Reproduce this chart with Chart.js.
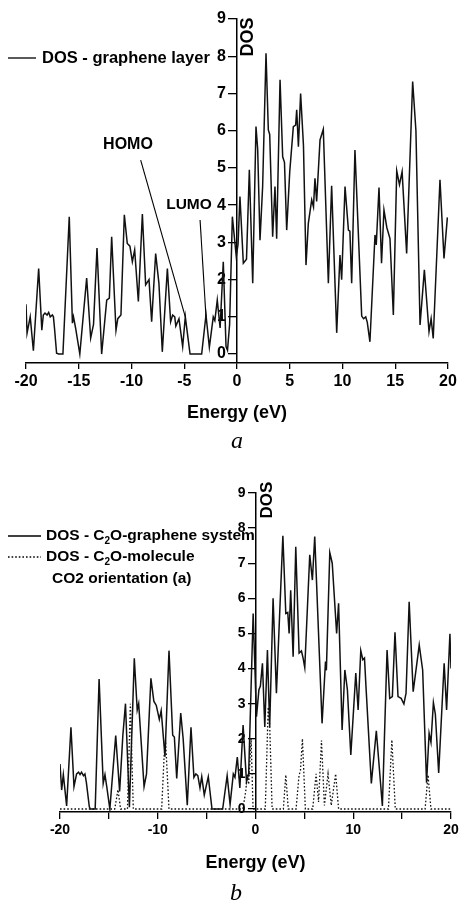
<!DOCTYPE html>
<html><head><meta charset="utf-8">
<script src="https://cdn.jsdelivr.net/npm/chart.js@4.4.1/dist/chart.umd.min.js"></script>
<style>
html,body{margin:0;padding:0;background:#fff;width:462px;height:902px;overflow:hidden}
.wrap{position:absolute;left:0;width:462px}
canvas{display:block}
</style></head>
<body>
<div class="wrap" style="top:0;height:460px"><canvas id="cA" width="462" height="460"></canvas></div>
<div class="wrap" style="top:460px;height:442px"><canvas id="cB" width="462" height="442"></canvas></div>
<script>
// ---------- DATA ----------
const energyA = [-20,-19.9,-19.6,-19.3,-18.8,-18.5,-18.36,-18.2,-18.0,-17.85,-17.7,-17.5,-17.4,-17.3,-17.1,-16.9,-16.5,-15.9,-15.6,-15.5,-15.3,-14.9,-14.25,-13.87,-13.6,-13.27,-12.83,-12.35,-12.1,-11.88,-11.47,-11.3,-11.0,-10.68,-10.4,-10.15,-9.92,-9.7,-9.35,-8.97,-8.66,-8.34,-8.09,-7.71,-7.4,-7.08,-6.6,-6.29,-6.1,-5.9,-5.8,-5.5,-5.15,-4.9,-4.45,-3.35,-2.94,-2.62,-2.25,-2.1,-1.87,-1.6,-1.3,-1.04,-0.9,-0.7,-0.44,-0.07,0.1,0.28,0.6,0.9,1.17,1.49,1.8,1.96,2.18,2.43,2.75,2.97,3.1,3.38,3.6,3.76,4.08,4.33,4.5,4.71,5.0,5.34,5.56,5.66,5.82,6.03,6.3,6.54,6.76,7.08,7.25,7.39,7.55,7.87,8.18,8.66,8.97,9.45,9.76,9.92,10.24,10.56,10.7,10.87,11.18,11.82,12.0,12.2,12.35,12.6,13.08,13.2,13.46,13.7,13.93,14.2,14.5,14.82,15.14,15.4,15.65,16.08,16.65,16.96,17.35,17.76,18.2,18.4,18.6,19.24,19.62,19.94];
const dosGraphene = [1.34,0.56,1.0,0.09,2.3,0.64,1.05,1.1,1.05,1.12,1.0,1.05,1.0,0.7,0.02,0,0,3.69,0.83,1.0,0.7,0,2.04,0.43,0.8,2.85,0,1.45,1.5,3.15,0.64,0.95,1.05,3.74,2.97,2.9,2.48,2.8,1.41,3.76,1.86,2.0,0.87,2.7,1.9,0.06,2.3,0.87,1.05,1.0,0.75,0.95,0.2,1.0,0,0,1.05,0.18,1.0,0.9,1.45,0.7,2.48,0.2,0.1,0.8,3.69,2.62,2.95,4.23,2.44,2.55,4.95,1.9,6.11,5.5,3.06,4.5,8.08,6.02,5.9,3.15,4.5,3.1,7.37,5.3,5.15,3.33,4.9,6.11,6.15,6.56,5.57,7.0,5.6,2.39,3.51,4.14,3.95,4.72,4.1,5.75,6.04,1.9,4.52,0.57,2.66,2.0,4.5,3.33,3.3,1.9,5.48,1.02,0.95,1.0,0.85,0.33,3.2,2.93,4.47,2.44,3.87,3.4,3.1,1.05,4.92,4.55,4.9,2.7,7.32,6.0,0.78,2.26,0.6,0.95,0.42,4.68,2.57,3.67];

const energyB = [-20,-19.83,-19.66,-19.32,-18.88,-18.57,-18.3,-18.1,-17.95,-17.8,-17.6,-17.45,-17.3,-17.0,-16.9,-16.4,-16.0,-15.58,-15.4,-15.2,-14.9,-14.3,-13.9,-13.57,-13.3,-12.9,-12.4,-12.1,-11.95,-11.4,-11.15,-10.7,-10.4,-10.15,-9.84,-9.65,-9.26,-8.85,-8.47,-8.3,-8.06,-7.65,-7.4,-6.98,-6.6,-6.3,-6.1,-5.9,-5.68,-5.5,-5.24,-4.83,-4.45,-3.36,-2.9,-2.6,-2.27,-2.1,-1.86,-1.6,-1.27,-0.92,-0.7,-0.24,0.1,0.35,0.5,0.71,0.95,1.22,1.45,1.8,2.14,2.8,3.1,3.3,3.44,3.6,3.85,4.12,4.46,4.7,4.87,5.04,5.55,5.82,6.06,6.81,7.16,7.25,7.6,7.85,8.3,8.5,8.86,9.14,9.4,9.75,10.26,10.5,10.77,10.98,11.15,11.3,11.85,12.36,12.98,13.46,13.73,14.0,14.27,14.58,14.9,15.18,15.4,15.72,16.13,16.75,17.1,17.5,17.76,17.95,18.2,18.4,18.74,19.3,19.55,19.89,20.0];
const dosSystem = [1.28,0.54,0.98,0.09,2.33,0.64,1.0,1.05,0.98,1.05,0.95,1.0,0.75,0.06,0,0,3.7,0.73,0.98,0.6,0,2.09,0.5,2.1,3.0,0.05,4.29,2.82,3.0,0.64,1.0,3.72,3.07,2.95,2.55,2.8,1.49,4.51,2.1,2.05,0.87,2.73,2.0,0.11,2.33,0.9,1.0,0.95,0.6,0.92,0.4,0.92,0,0,0.95,0.13,1.0,0.9,1.48,0.6,2.39,0.78,1.0,5.57,2.63,3.4,3.5,4.15,2.34,4.53,2.34,6.0,3.3,7.78,5.57,5.6,5.0,6.23,4.34,7.47,4.44,4.5,4.3,4.03,7.24,6.52,7.76,2.44,4.2,3.95,7.3,7.0,5.0,5.86,2.25,3.96,3.4,1.54,3.87,2.82,4.51,4.25,4.3,3.5,0.73,2.23,0.09,4.53,3.15,3.2,5.03,3.2,3.15,2.99,3.3,5.9,3.34,4.67,3.96,0.75,2.16,1.9,3.03,2.7,1.03,4.15,2.82,4.99,4.0];

const energyMol = [-20,-14.4,-14.07,-13.8,-13.1,-12.8,-12.5,-9.6,-9.35,-9.2,-8.85,-1.3,-1.0,-0.85,-0.7,-0.45,-0.25,1.0,1.3,1.45,1.7,2.85,3.1,3.35,4.15,4.45,4.6,4.8,5.1,5.85,6.2,6.45,6.75,7.05,7.42,7.75,8.2,8.5,13.6,13.95,14.3,17.35,17.65,17.95,20];
const dosMolecule = [0,0,0.55,0,0,3.0,0,0,1.5,1.95,0,0,0.5,1.0,0.7,2.0,0,0,2.9,2.4,0,0,0.97,0,0,0.95,1.1,2.0,0,0,1.0,0.2,1.95,0.1,1.0,0.1,1.0,0,0,1.97,0,0,0.97,0,0];

const xTicksA = [-20,-15,-10,-5,0,5,10,15,20];
const xTicksB = [-20,-15,-10,-5,0,5,10,15,20];
const xLabelsB = [-20,-10,0,10,20];
const yTicks = [0,1,2,3,4,5,6,7,8,9];

// annotation anchors (data coordinates)
const homoLine = [[-9.13,5.21],[-4.9,1.0]];
const lumoLine = [[-3.5,3.6],[-2.94,1.0]];

// ---------- helpers ----------
const F = 'Liberation Sans, Arial, sans-serif';
function bold(px){ return 'bold ' + px + 'px "Liberation Sans", Arial, sans-serif'; }
function pts(xs, ys){ return xs.map((x,i)=>({x:x, y:ys[i]})); }

function axisCommon(tickLen, fontSize){
  return {
    grid:{display:true, drawOnChartArea:false, drawTicks:true, tickLength:tickLen, color:'#000', lineWidth:1.3},
    border:{display:true, color:'#000', width:1.5},
    ticks:{color:'#000', font:{family:F, weight:'bold', size:fontSize}, padding:3, maxRotation:0, autoSkip:false}
  };
}

// place y tick labels to the left of the centred axis
const yLabelFix = {
  id:'yLabelFix',
  beforeDraw(chart){
    const ys = chart.scales.y, xs = chart.scales.x;
    const ax = xs.getPixelForValue(0);
    const off = ys.options.grid.tickLength + 3;
    ys.getLabelItems().forEach(it=>{
      it.options.translation[0] = ax - off;
      it.options.textAlign = 'right';
    });
  }
};

function makeChart(id, cfg){
  const xa = axisCommon(cfg.xTickLen, cfg.tickFont);
  const ya = axisCommon(cfg.yTickLen, cfg.tickFont);
  xa.ticks.callback = cfg.xLabel;
  return new Chart(document.getElementById(id), {
    type:'line',
    data:{datasets: cfg.datasets},
    options:{
      responsive:false, animation:false, events:[], devicePixelRatio:1,
      layout:{padding:cfg.padding},
      plugins:{legend:{display:false}, tooltip:{enabled:false}},
      scales:{
        x:Object.assign(xa, {
          type:'linear', min:-20, max:20, position:'bottom',
          afterBuildTicks:(s)=>{ s.ticks = cfg.xTicks.map(v=>({value:v})); },
          afterFit:(s)=>{ s.height = cfg.xHeight; },
          title:{display:true, text:'Energy (eV)', color:'#000', font:{family:F, weight:'bold', size:18}, padding:{top:0, bottom:cfg.titlePad}}
        }),
        y:Object.assign(ya, {
          type:'linear', min:cfg.yMin, max:9, position:{x:0},
          afterBuildTicks:(s)=>{ s.ticks = yTicks.map(v=>({value:v})); }
        })
      }
    },
    plugins:[yLabelFix, {id:'annot', afterDraw:cfg.draw}]
  });
}
Chart.defaults.font.family = F;

// ---------- Chart A ----------
const chartA = makeChart('cA', {
  padding:{left:26, right:14, top:19, bottom:30},
  xTickLen:6, yTickLen:8, tickFont:16, xHeight:67, titlePad:5.7, yMin:-0.24,
  xTicks:xTicksA, xLabel:(v)=>String(v),
  datasets:[{data:pts(energyA, dosGraphene), borderColor:'#111', borderWidth:1.5, pointRadius:0, tension:0, fill:false}],
  draw:(chart)=>{
    const ctx = chart.ctx, xs = chart.scales.x, ys = chart.scales.y;
    ctx.save();
    ctx.fillStyle = '#000'; ctx.strokeStyle = '#000';
    // legend
    ctx.lineWidth = 1.3;
    ctx.beginPath(); ctx.moveTo(8,58); ctx.lineTo(36,58); ctx.stroke();
    ctx.font = bold(16.5); ctx.textBaseline = 'middle'; ctx.textAlign = 'left';
    ctx.fillText('DOS - graphene layer', 42, 58);
    // HOMO / LUMO
    ctx.lineWidth = 1.1;
    [homoLine, lumoLine].forEach(l=>{
      ctx.beginPath();
      ctx.moveTo(xs.getPixelForValue(l[0][0]), ys.getPixelForValue(l[0][1]));
      ctx.lineTo(xs.getPixelForValue(l[1][0]), ys.getPixelForValue(l[1][1]));
      ctx.stroke();
    });
    ctx.textAlign = 'center';
    ctx.font = bold(16); ctx.fillText('HOMO', 128, 145);
    ctx.font = bold(15.5); ctx.fillText('LUMO', 189, 205);
    // y title
    ctx.save(); ctx.translate(248, 37); ctx.rotate(-Math.PI/2);
    ctx.font = bold(18); ctx.fillText('DOS', 0, 0); ctx.restore();
    // caption
    ctx.font = 'italic 24px "Liberation Serif", serif'; ctx.textBaseline = 'alphabetic';
    ctx.fillText('a', 237, 448);
    ctx.restore();
  }
});

// ---------- Chart B ----------
const chartB = makeChart('cB', {
  padding:{left:60, right:11, top:33, bottom:22},
  xTickLen:7, yTickLen:7, tickFont:14, xHeight:68, titlePad:6.2, yMin:-0.085,
  xTicks:xTicksB, xLabel:(v)=> xLabelsB.includes(v) ? String(v) : '',
  datasets:[
    {data:pts(energyB, dosSystem), borderColor:'#111', borderWidth:1.5, pointRadius:0, tension:0, fill:false},
    {data:pts(energyMol, dosMolecule), borderColor:'#111', borderWidth:1.3, borderDash:[1.6,2], pointRadius:0, tension:0, fill:false}
  ],
  draw:(chart)=>{
    const ctx = chart.ctx;
    ctx.save();
    ctx.fillStyle = '#000'; ctx.strokeStyle = '#000'; ctx.lineWidth = 1.3;
    const r1 = 536-460, r2 = 557-460, r3 = 579-460;
    ctx.beginPath(); ctx.moveTo(8,r1); ctx.lineTo(41,r1); ctx.stroke();
    ctx.setLineDash([1.6,2]); ctx.beginPath(); ctx.moveTo(8,r2); ctx.lineTo(41,r2); ctx.stroke(); ctx.setLineDash([]);
    ctx.textBaseline = 'middle'; ctx.textAlign = 'left';
    function sub(parts, x, y){
      parts.forEach(p=>{
        if (p.s){ ctx.font = bold(10); ctx.fillText(p.t, x, y+5); x += ctx.measureText(p.t).width; }
        else { ctx.font = bold(15.5); ctx.fillText(p.t, x, y); x += ctx.measureText(p.t).width; }
      });
    }
    sub([{t:'DOS - C'},{t:'2',s:1},{t:'O-graphene system'}], 46, r1);
    sub([{t:'DOS - C'},{t:'2',s:1},{t:'O-molecule'}], 46, r2);
    ctx.font = bold(15.5); ctx.fillText('CO2 orientation (a)', 52, r3);
    ctx.save(); ctx.translate(267, 500-460); ctx.rotate(-Math.PI/2);
    ctx.textAlign = 'center'; ctx.font = bold(17); ctx.fillText('DOS', 0, 0); ctx.restore();
    ctx.font = 'italic 24px "Liberation Serif", serif'; ctx.textBaseline = 'alphabetic'; ctx.textAlign = 'center';
    ctx.fillText('b', 236, 900-460);
    ctx.restore();
  }
});
</script>
</body></html>
